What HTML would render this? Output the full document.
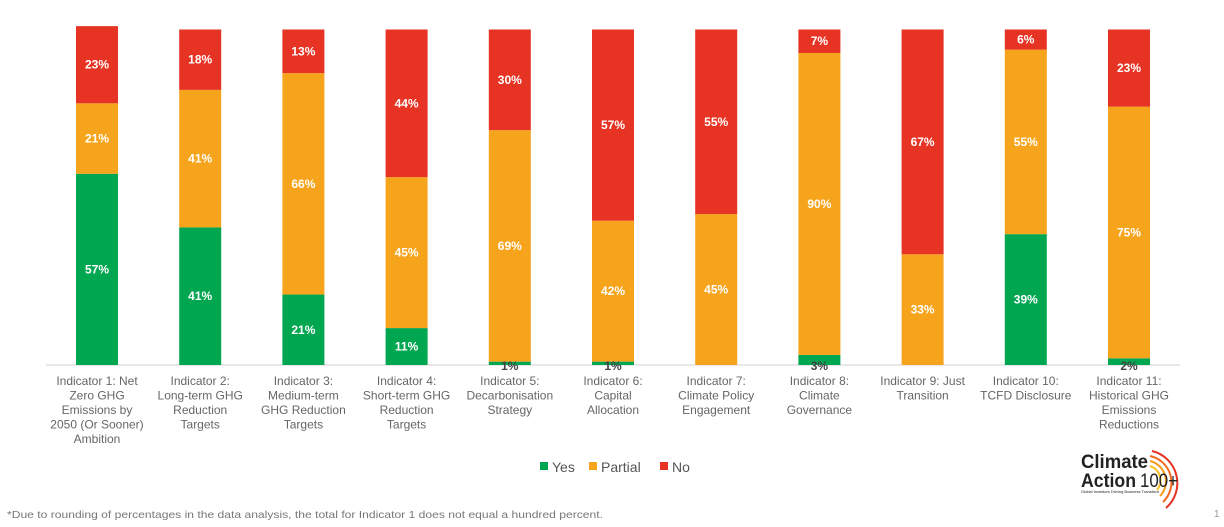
<!DOCTYPE html>
<html><head><meta charset="utf-8"><style>
body{margin:0;background:#fff;width:1224px;height:527px;overflow:hidden;font-family:"Liberation Sans",sans-serif}
svg{display:block}
</style></head><body>
<svg id="chart" width="1224" height="527">
<line x1="46" y1="365" x2="1180" y2="365" stroke="#d0d0d0" stroke-width="1"/>
<g id="bars"></g>
<g id="labels"></g>
<g>
 <rect x="540" y="462" width="8" height="8" fill="#00A650"/>
 <text x="552" y="472" font-size="14" fill="#555">Yes</text>
 <rect x="589" y="462" width="8" height="8" fill="#F7A41D"/>
 <text x="601" y="472" font-size="14" fill="#555">Partial</text>
 <rect x="660" y="462" width="8" height="8" fill="#E63323"/>
 <text x="672" y="472" font-size="14" fill="#555">No</text>
</g>
<g>
 <path d="M1152 451 A33 33 0 0 1 1166 508" fill="none" stroke="#E63323" stroke-width="2"/>
 <path d="M1150 456 A27 27 0 0 1 1163 502" fill="none" stroke="#F06A20" stroke-width="2"/>
 <path d="M1150 461 A21 21 0 0 1 1160 496" fill="none" stroke="#F59A1D" stroke-width="2"/>
 <path d="M1150 466 A15 15 0 0 1 1157 490" fill="none" stroke="#F7C21D" stroke-width="2"/>
 <text x="1081" y="468" font-size="19" font-weight="bold" fill="#222" textLength="67" lengthAdjust="spacingAndGlyphs">Climate</text>
 <text x="1081" y="487" font-size="19" font-weight="bold" fill="#222" textLength="55" lengthAdjust="spacingAndGlyphs">Action</text>
 <text x="1140" y="487" font-size="19" fill="#222" textLength="38" lengthAdjust="spacingAndGlyphs">100+</text>
 <text x="1081" y="493" font-size="3.5" fill="#222" textLength="78" lengthAdjust="spacingAndGlyphs">Global Investors Driving Business Transition</text>
</g>
<text x="7" y="518" font-size="10.5" fill="#777" textLength="596" lengthAdjust="spacingAndGlyphs">*Due to rounding of percentages in the data analysis, the total for Indicator 1 does not equal a hundred percent.</text>
<text x="1214" y="517" font-size="10" fill="#999">1</text>
</svg>
<script>
const categories=[["Indicator 1: Net","Zero GHG","Emissions by","2050 (Or Sooner)","Ambition"],["Indicator 2:","Long-term GHG","Reduction","Targets"],["Indicator 3:","Medium-term","GHG Reduction","Targets"],["Indicator 4:","Short-term GHG","Reduction","Targets"],["Indicator 5:","Decarbonisation","Strategy"],["Indicator 6:","Capital","Allocation"],["Indicator 7:","Climate Policy","Engagement"],["Indicator 8:","Climate","Governance"],["Indicator 9: Just","Transition"],["Indicator 10:","TCFD Disclosure"],["Indicator 11:","Historical GHG","Emissions","Reductions"]];
const yesValues=[57,41,21,11,1,1,0,3,0,39,2];
const partialValues=[21,41,66,45,69,42,45,90,33,55,75];
const noValues=[23,18,13,44,30,57,55,7,67,6,23];
const NS="http://www.w3.org/2000/svg";
const base=365, pxPer=3.355, x0=97, step=103.2, bw=42;
const yScale=v=>v*pxPer;
const xCenter=i=>x0+i*step;
const bars=document.getElementById('bars'), labels=document.getElementById('labels');
function mk(tag,attrs,parent){const e=document.createElementNS(NS,tag);for(const k in attrs)e.setAttribute(k,attrs[k]);parent.appendChild(e);return e;}
const series=[["yes",yesValues,"#00A650"],["partial",partialValues,"#F7A41D"],["no",noValues,"#E63323"]];
categories.forEach((cat,i)=>{
  let y=base;const cx=xCenter(i);
  series.forEach(([nm,vals,col])=>{
    const v=vals[i];const h=yScale(v);
    if(v>0){
      const r=mk('rect',{x:cx-bw/2,y:y-h,width:bw,height:h,fill:col},bars);
      
      
      const small=v<5;
      const t=mk('text',{x:cx,y:small?base+5:y-h/2+4,'text-anchor':'middle','font-size':'12','font-weight':'bold',fill:small?'#444':'#fff'},labels);
      t.textContent=v+'%';
      
      
    }
    y-=h;
  });
  const tx=mk('text',{x:cx,'text-anchor':'middle','font-size':'12',fill:'#666'},labels);
  
  
  cat.forEach((ln,j)=>{const s=mk('tspan',{x:cx,y:385+j*14.5},tx);s.textContent=ln;});
});
</script>
</body></html>
